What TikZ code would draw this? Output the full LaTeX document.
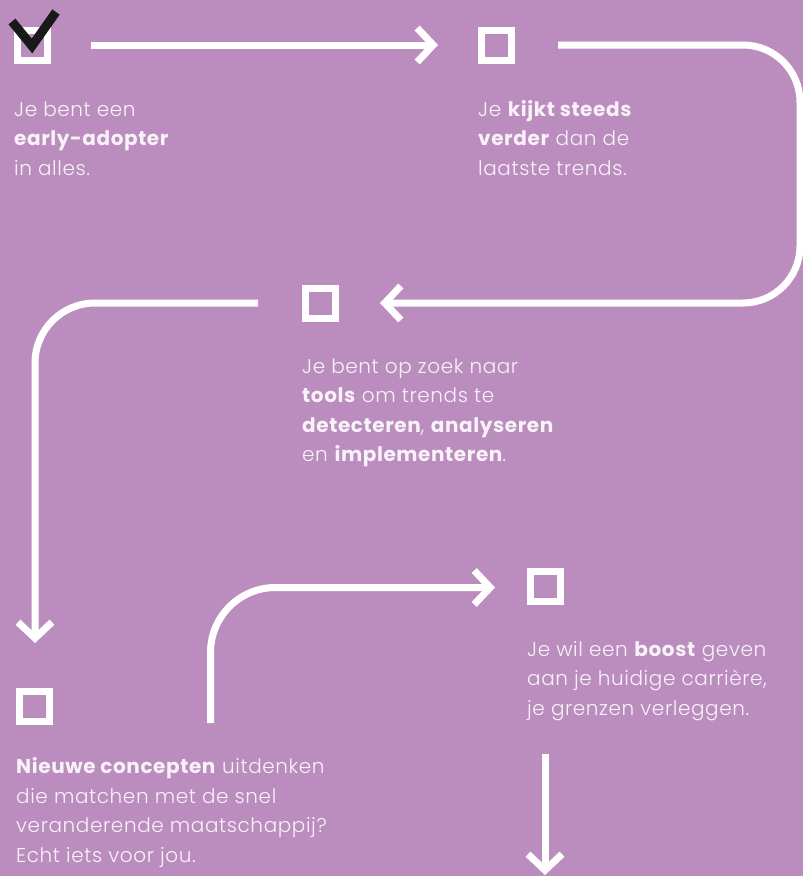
\documentclass[tikz,border=0pt]{standalone}
\usepackage{fontspec}
\setmainfont{Poppins}[UprightFont=* Light, BoldFont=* Bold,
  UprightFeatures={LetterSpace=3}, BoldFeatures={LetterSpace=3}]
\usetikzlibrary{arrows.meta}
\definecolor{bgpurple}{RGB}{187,141,191}
\definecolor{txtwhite}{RGB}{248,242,248}
\begin{document}
\begin{tikzpicture}[x=1pt,y=-1pt,
  chkbox/.style={draw=white, line width=7pt, minimum size=30pt, inner sep=0pt, outer sep=0pt},
  conn/.style={draw=white, line width=7pt, -{Straight Barb[length=16pt,width=34pt]}},
  txt/.style={anchor=base west, inner sep=0pt, align=left, text=txtwhite,
    font=\fontsize{20}{29.5}\selectfont},
  tick/.style={draw=black!90, line width=9pt, line join=miter}
]
\fill[bgpurple] (0,0) rectangle (803,876);
\useasboundingbox (0,0) rectangle (803,876);

% boxes
\node[chkbox] (b1) at (32.5,45.5) {};
\node[chkbox] (b2) at (496.5,45) {};
\node[chkbox] (b3) at (320,303.5) {};
\node[chkbox] (b4) at (34.5,706) {};
\node[chkbox] (b5) at (545,586) {};

% checkmark
\draw[tick] (12,21.5) -- (32,46) -- (56,12);

% texts (anchored at the baseline of the last line)
\node[txt] (t1) at (14,175) {Je bent een\\\textbf{early-adopter}\\in alles.};
\node[txt] (t2) at (478,175) {Je \textbf{kijkt steeds}\\\textbf{verder} dan de\\laatste trends.};
\node[txt] (t3) at (302,461.5) {Je bent op zoek naar\\\textbf{tools} om trends te\\\textbf{detecteren}, \textbf{analyseren}\\en \textbf{implementeren}.};
\node[txt] (t4) at (16,862) {\textbf{Nieuwe concepten} uitdenken\\die matchen met de snel\\veranderende maatschappij?\\Echt iets voor jou.};
\node[txt] (t5) at (527,715) {Je wil een \textbf{boost} geven\\aan je huidige carrière,\\je grenzen verleggen.};

% connector coordinates
\coordinate (s1) at (91,45);
\coordinate (e1) at (438,45);
\coordinate (s2) at (558,45);
\coordinate (k2a) at (800,45);
\coordinate (k2b) at (800,303);
\coordinate (e2) at (380,303);
\coordinate (s3) at (258,303);
\coordinate (k3) at (35,303);
\coordinate (e3) at (35,643);
\coordinate (s4) at (210.5,723);
\coordinate (k4) at (210.5,587.5);
\coordinate (e4) at (495,587.5);
\coordinate (s5) at (545,754);
\coordinate (e5) at (545,875);

\draw[conn] (s1) -- (e1);
\draw[conn, rounded corners=57pt] (s2) -- (k2a) -- (k2b) -- (e2);
\draw[conn, rounded corners=60pt] (s3) -- (k3) -- (e3);
\draw[conn, rounded corners=65pt] (s4) -- (k4) -- (e4);
\draw[conn] (s5) -- (e5);
\end{tikzpicture}
\end{document}
